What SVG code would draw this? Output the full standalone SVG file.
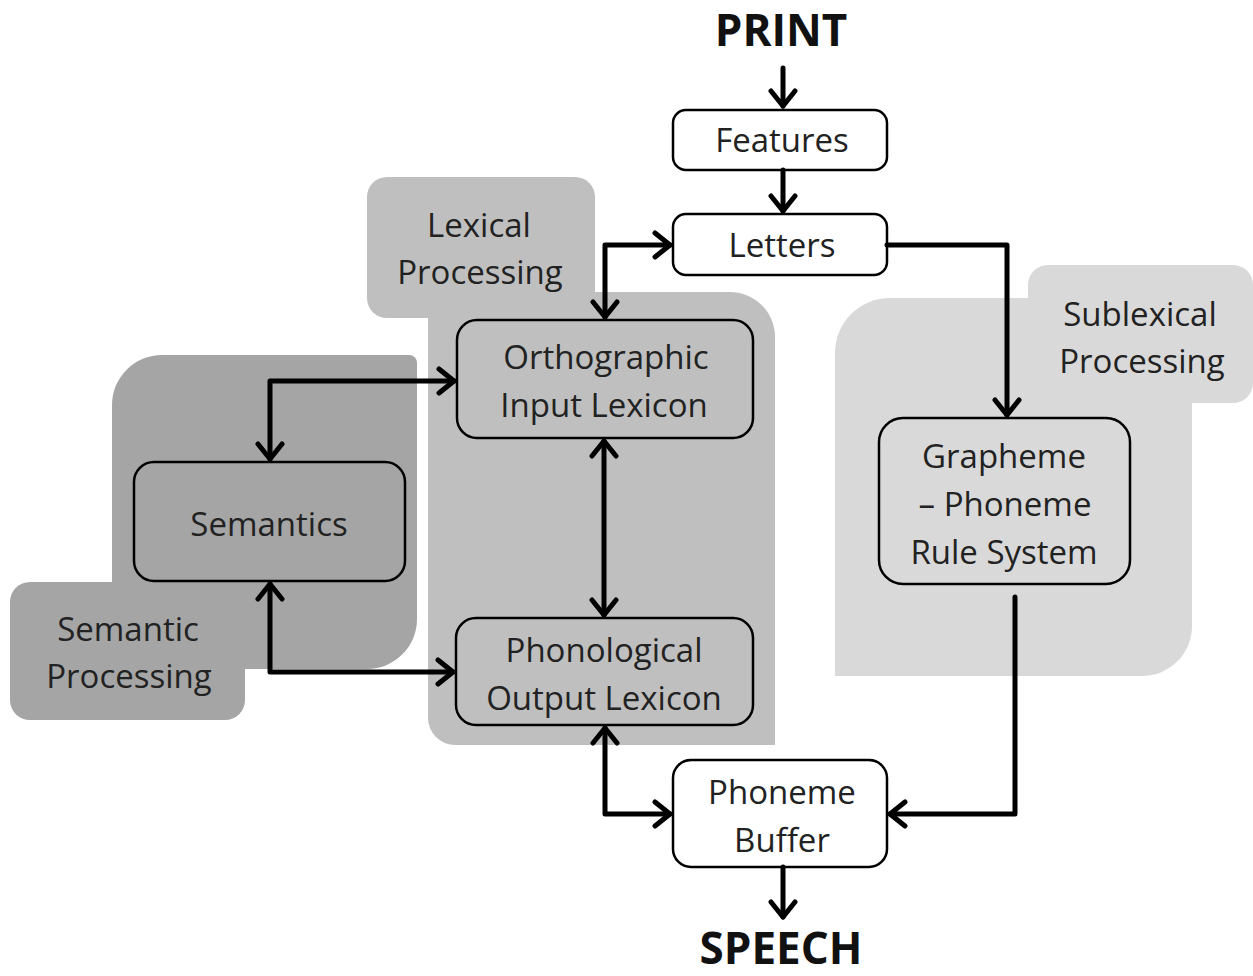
<svg xmlns="http://www.w3.org/2000/svg" width="1253" height="976" viewBox="0 0 1253 976">
<defs>
<style>
.node{stroke:#000;stroke-width:2.5;}
.t{font-family:"Open Sans","Liberation Sans",sans-serif;font-size:33px;fill:#222;text-anchor:middle;}
.big{font-family:"Open Sans","Liberation Sans",sans-serif;font-size:44px;font-weight:bold;fill:#111;text-anchor:middle;}
.c{fill:none;stroke:#000;stroke-width:5;stroke-linejoin:round;stroke-linecap:round;}
</style>
<marker id="ah" viewBox="-20 -15 25 30" refX="0" refY="0" markerWidth="25" markerHeight="30" markerUnits="userSpaceOnUse" orient="auto-start-reverse">
<path d="M-15,-12 L0,0 L-15,12" fill="none" stroke="#000" stroke-width="5" stroke-linecap="round" stroke-linejoin="round"/>
</marker>
</defs>
<rect width="1253" height="976" fill="#fff"/>
<g id="region-lexical" fill="#bfbfbf">
<rect x="367" y="177" width="228" height="141" rx="20"/>
<path d="M428,292 H730 A45,45 0 0 1 775,337 V745 H455 A27,27 0 0 1 428,718 Z"/>
<text class="t" x="479" y="237">Lexical</text>
<text class="t" x="480" y="284">Processing</text>
</g>
<g id="region-semantic" fill="#a5a5a5">
<path d="M112,405 A50,50 0 0 1 162,355 H409 A8,8 0 0 1 417,363 V619 A50,50 0 0 1 367,669 H112 Z"/>
<rect x="10" y="582" width="235" height="138" rx="20"/>
<text class="t" x="128" y="641">Semantic</text>
<text class="t" x="129" y="688">Processing</text>
</g>
<g id="region-sublexical" fill="#d9d9d9">
<path d="M835,353 A55,55 0 0 1 890,298 H1192 V626 A50,50 0 0 1 1142,676 H835 Z"/>
<rect x="1028" y="265" width="225" height="138" rx="20"/>
<text class="t" x="1140" y="326">Sublexical</text>
<text class="t" x="1142" y="373">Processing</text>
</g>
<g id="print"><text class="big" x="781" y="46">PRINT</text></g>
<g id="speech"><text class="big" x="781" y="964">SPEECH</text></g>
<g id="features">
<rect class="node" x="673" y="110" width="214" height="60" rx="13" fill="#fff"/>
<text class="t" x="782" y="152">Features</text>
</g>
<g id="letters">
<rect class="node" x="673" y="214" width="214" height="61" rx="13" fill="#fff"/>
<text class="t" x="782" y="257">Letters</text>
</g>
<g id="orthographic">
<rect class="node" x="457" y="320" width="296" height="118" rx="20" fill="none"/>
<text class="t" x="606" y="369">Orthographic</text>
<text class="t" x="604" y="417">Input Lexicon</text>
</g>
<g id="semantics">
<rect class="node" x="134" y="462" width="271" height="119" rx="20" fill="none"/>
<text class="t" x="269" y="536">Semantics</text>
</g>
<g id="phonological">
<rect class="node" x="456" y="618" width="297" height="107" rx="20" fill="none"/>
<text class="t" x="604" y="662">Phonological</text>
<text class="t" x="604" y="710">Output Lexicon</text>
</g>
<g id="grapheme">
<rect class="node" x="879" y="418" width="251" height="166" rx="24" fill="none"/>
<text class="t" x="1004" y="468">Grapheme</text>
<text class="t" x="1005" y="516">– Phoneme</text>
<text class="t" x="1004" y="564">Rule System</text>
</g>
<g id="buffer">
<rect class="node" x="673" y="760" width="214" height="107" rx="18" fill="#fff"/>
<text class="t" x="782" y="804">Phoneme</text>
<text class="t" x="782" y="852">Buffer</text>
</g>
<g id="connectors">
<path class="c" d="M783,68 V106" marker-end="url(#ah)"/>
<path class="c" d="M783,170 V211" marker-end="url(#ah)"/>
<path class="c" d="M605,317 V245 H670" marker-start="url(#ah)" marker-end="url(#ah)"/>
<path class="c" d="M887,245 H1007 V415" marker-end="url(#ah)"/>
<path class="c" d="M270,459 V381 H454" marker-start="url(#ah)" marker-end="url(#ah)"/>
<path class="c" d="M270,584 V672 H453" marker-start="url(#ah)" marker-end="url(#ah)"/>
<path class="c" d="M604,441 V615" marker-start="url(#ah)" marker-end="url(#ah)"/>
<path class="c" d="M605,728 V814 H670" marker-start="url(#ah)" marker-end="url(#ah)"/>
<path class="c" d="M1015,597 V814 H890" marker-end="url(#ah)"/>
<path class="c" d="M783,867 V917" marker-end="url(#ah)"/>
</g>
</svg>
